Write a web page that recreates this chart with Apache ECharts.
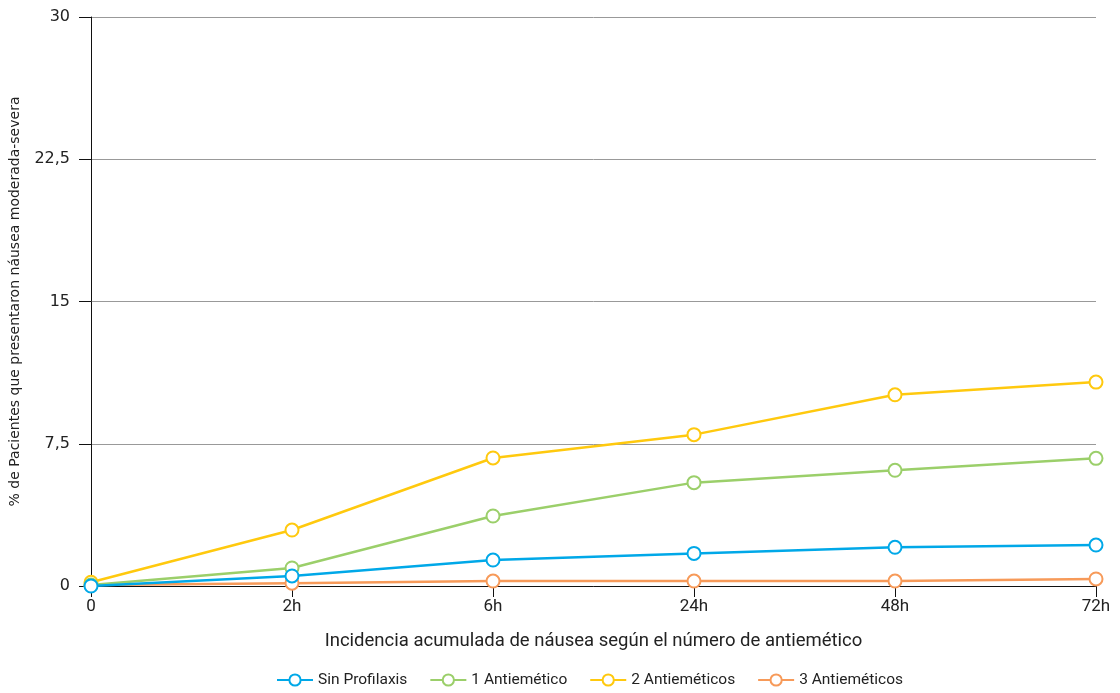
<!DOCTYPE html>
<html><head><meta charset="utf-8">
<script src="https://cdn.jsdelivr.net/npm/echarts@6/dist/echarts.min.js"></script>
<style>html,body{margin:0;padding:0;background:#fff}#c{width:1120px;height:693px}</style>
</head><body><div id="c"></div>
<script>
const categories = ['0', '2h', '6h', '24h', '48h', '72h'];
const sinProfilaxis = [0, 0.53, 1.37, 1.72, 2.04, 2.16];
const unAntiemetico = [0.05, 0.95, 3.69, 5.45, 6.1, 6.73];
const dosAntiemeticos = [0.2, 2.95, 6.75, 7.98, 10.08, 10.75];
const tresAntiemeticos = [0.05, 0.15, 0.26, 0.26, 0.26, 0.37];
const yTicks = [0, 7.5, 15, 22.5, 30];
const seriesNames = ['Sin Profilaxis', '1 Antiemético', '2 Antieméticos', '3 Antieméticos'];
const colors = ['#00a8e8', '#9bcf6a', '#ffc90e', '#f79a59'];

const chart = echarts.init(document.getElementById('c'));
const mk = (name, data, color, z) => ({
  name, type: 'line', data, z,
  symbol: 'emptyCircle', symbolSize: 13,
  itemStyle: { color, borderWidth: 2.5 },
  lineStyle: { color, width: 2.5 },
  emphasis: { disabled: true }
});
chart.setOption({
  animation: false,
  textStyle: { fontFamily: 'Roboto' },
  grid: { left: 91, right: 24, top: 17, bottom: 107, outerBoundsMode: 'none', containLabel: false },
  legend: {
    data: seriesNames, bottom: 0, left: 271,
    itemWidth: 36, itemHeight: 14, itemGap: 22,
    textStyle: { fontSize: 15.5, color: '#222', fontFamily: 'Roboto' }
  },
  xAxis: {
    type: 'category', data: categories, boundaryGap: false,
    name: 'Incidencia acumulada de náusea según el número de antiemético',
    nameLocation: 'middle', nameGap: 46,
    nameTextStyle: { fontSize: 18.5, color: '#222', fontFamily: 'Roboto' },
    axisLine: { lineStyle: { color: '#111', width: 1 } },
    axisTick: { show: true, length: 11, alignWithLabel: true, lineStyle: { color: '#111' } },
    axisLabel: { fontSize: 17, color: '#222', margin: 12, fontFamily: 'Roboto' },
    splitLine: { show: false }
  },
  yAxis: {
    type: 'value', min: 0, max: 30, interval: 7.5,
    name: '% de Pacientes que presentaron náusea moderada-severa',
    nameLocation: 'middle', nameGap: 69, nameRotate: 90,
    nameTextStyle: { fontSize: 14, color: '#222', fontFamily: 'DejaVu Sans' },
    axisLine: { show: true, lineStyle: { color: '#111', width: 1 } },
    axisTick: { show: true, length: 12, lineStyle: { color: '#111' } },
    axisLabel: {
      fontSize: 16, color: '#222', margin: 21, fontFamily: 'DejaVu Sans',
      formatter: v => yTicks.includes(v) ? String(v).replace('.', ',') : ''
    },
    splitLine: { show: true, lineStyle: { color: '#999', width: 1 } }
  },
  series: [
    mk(seriesNames[3], tresAntiemeticos, colors[3], 2),
    mk(seriesNames[2], dosAntiemeticos, colors[2], 3),
    mk(seriesNames[1], unAntiemetico, colors[1], 4),
    mk(seriesNames[0], sinProfilaxis, colors[0], 5)
  ]
});
</script></body></html>
